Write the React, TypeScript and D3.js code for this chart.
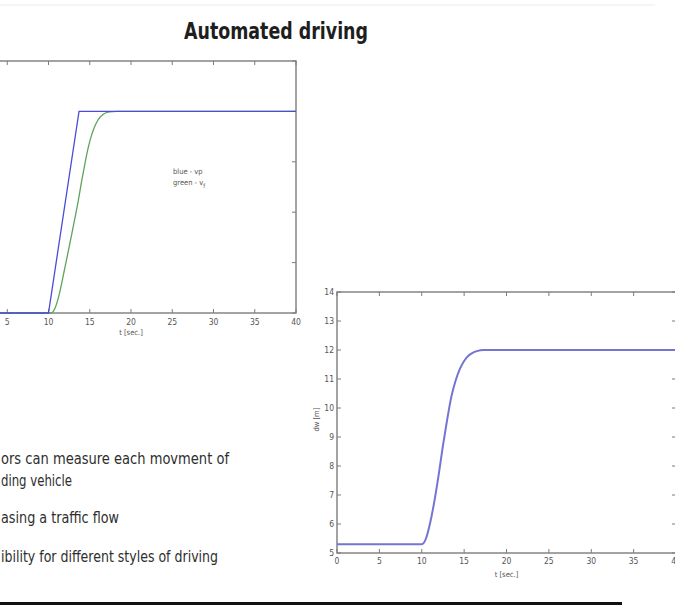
import React from 'react';
import * as d3 from 'd3';

// ---- data ----
const title = 'Automated driving';
const timeTicks = [0, 5, 10, 15, 20, 25, 30, 35, 40];
const timeLabels = ['0', '5', '10', '15', '20', '25', '30', '35', '40'];

// left chart: speeds (arbitrary units, axis labels not visible)
const vpT = [0, 10, 13.7, 40];
const vpV = [0, 0, 4, 4];
const vfT = [0, 10.3, 10.8, 11.3, 11.8, 12.3, 12.8, 13.2, 13.6, 14.0, 14.4, 14.8, 15.2, 15.6, 16.0, 16.6, 17.4, 18.3, 40];
const vfV = [0, 0, 0.1, 0.37, 0.75, 1.15, 1.55, 1.88, 2.22, 2.6, 2.95, 3.27, 3.52, 3.7, 3.83, 3.94, 3.99, 4.0, 4.0];
const speedTicks = [0, 1, 2, 3, 4, 5];

// right chart: distance dw [m]
const dT = [0, 10, 10.5, 11, 11.5, 12, 12.5, 13, 13.5, 14, 14.5, 15, 15.5, 16, 16.5, 17.3, 18, 40];
const dV = [5.3, 5.3, 5.5, 6.05, 6.8, 7.7, 8.7, 9.6, 10.4, 10.95, 11.35, 11.62, 11.8, 11.9, 11.96, 12.0, 12.0, 12.0];
const distTicks = [5, 6, 7, 8, 9, 10, 11, 12, 13, 14];

const bullets = [
  'ors can measure each movment of',
  'ding vehicle',
  'asing a traffic flow',
  'ibility for different styles of driving',
];
const bulletWidths = [228, 71, 118, 217];
const bulletY = [464, 486, 523, 562];

const narrow = "'Liberation Sans Narrow', 'Arial Narrow', 'DejaVu Sans Condensed', sans-serif";
const boxColor = '#7c7c7c';
const labelColor = '#555';

export default function App() {
  // left chart scales
  const lx = d3.scaleLinear().domain([0, 40]).range([-34, 296]);
  const ly = d3.scaleLinear().domain([0, 5]).range([313, 61]);
  // right chart scales
  const rx = d3.scaleLinear().domain([0, 40]).range([337, 676]);
  const ry = d3.scaleLinear().domain([5, 14]).range([553, 292]);

  const vpLine = d3.line<number>().x((_, i) => lx(vpT[i])).y((d) => ly(d))(vpV) || '';
  const vfLine = d3
    .line<number>()
    .x((_, i) => lx(vfT[i]))
    .y((d) => ly(d))
    .curve(d3.curveMonotoneX)(vfV) || '';
  const dLine = d3
    .line<number>()
    .x((_, i) => rx(dT[i]))
    .y((d) => ry(d))
    .curve(d3.curveMonotoneX)(dV) || '';

  const tk = 4;
  const [lx0, lx1] = lx.range();
  const [ly0, ly1] = ly.range();
  const [rx0, rx1] = rx.range();
  const [ry0, ry1] = ry.range();

  return (
    <svg
      width={675}
      height={608}
      style={{ position: 'absolute', left: 0, top: 0, background: '#fff' }}
    >
      <rect x={0} y={0} width={675} height={608} fill="#fff" />
      <line x1={0} x2={655} y1={5} y2={5} stroke="#ececec" strokeWidth={1} />

      <text
        x={276}
        y={39}
        textAnchor="middle"
        fontFamily={narrow}
        fontWeight="bold"
        fontSize={23}
        fill="#1e1e1e"
        textLength={184}
        lengthAdjust="spacingAndGlyphs"
      >
        {title}
      </text>

      {/* ---------- left chart ---------- */}
      <g>
        <rect x={lx0} y={ly1} width={lx1 - lx0} height={ly0 - ly1} fill="none" stroke={boxColor} strokeWidth={1.4} />
        {timeTicks.map((t, i) => (
          <g key={'lt' + i}>
            <line x1={lx(t)} x2={lx(t)} y1={ly0} y2={ly0 - tk} stroke={boxColor} />
            <line x1={lx(t)} x2={lx(t)} y1={ly1} y2={ly1 + tk} stroke={boxColor} />
            {lx(t) > 0 && (
              <text x={lx(t)} y={ly0 + 12} textAnchor="middle" fontFamily={narrow} fontSize={8.5} fill={labelColor}>
                {timeLabels[i]}
              </text>
            )}
          </g>
        ))}
        {speedTicks.map((v, i) => (
          <line key={'ls' + i} x1={lx1} x2={lx1 - tk} y1={ly(v)} y2={ly(v)} stroke={boxColor} />
        ))}
        <text x={lx(20)} y={ly0 + 22} textAnchor="middle" fontFamily={narrow} fontSize={7.5} fill={labelColor}>
          t [sec.]
        </text>
        <path d={vfLine} fill="none" stroke="#5da35d" strokeWidth={1.3} />
        <path d={vpLine} fill="none" stroke="#4c4cd6" strokeWidth={1.3} />
        <text x={173} y={174} fontFamily={narrow} fontSize={7.5} fill="#555">
          blue - vp
        </text>
        <text x={173} y={185} fontFamily={narrow} fontSize={7.5} fill="#555">
          green - v
          <tspan fontSize={6} dy={2.5}>f</tspan>
        </text>
      </g>

      {/* ---------- right chart ---------- */}
      <g>
        <rect x={rx0} y={ry1} width={rx1 - rx0} height={ry0 - ry1} fill="none" stroke={boxColor} strokeWidth={1.4} />
        {timeTicks.map((t, i) => (
          <g key={'rt' + i}>
            <line x1={rx(t)} x2={rx(t)} y1={ry0} y2={ry0 - tk} stroke={boxColor} />
            <line x1={rx(t)} x2={rx(t)} y1={ry1} y2={ry1 + tk} stroke={boxColor} />
            <text x={rx(t)} y={ry0 + 11} textAnchor="middle" fontFamily={narrow} fontSize={8.5} fill={labelColor}>
              {timeLabels[i]}
            </text>
          </g>
        ))}
        {distTicks.map((v, i) => (
          <g key={'rd' + i}>
            <line x1={rx0} x2={rx0 + tk} y1={ry(v)} y2={ry(v)} stroke={boxColor} />
            <line x1={rx1} x2={rx1 - tk} y1={ry(v)} y2={ry(v)} stroke={boxColor} />
            <text x={rx0 - 3} y={ry(v) + 3} textAnchor="end" fontFamily={narrow} fontSize={8.5} fill={labelColor}>
              {String(v)}
            </text>
          </g>
        ))}
        <text x={rx(20)} y={ry0 + 24} textAnchor="middle" fontFamily={narrow} fontSize={7.5} fill={labelColor}>
          t [sec.]
        </text>
        <text
          transform={`translate(319, ${ry(9.6)}) rotate(-90)`}
          textAnchor="middle"
          fontFamily={narrow}
          fontSize={7.5}
          fill={labelColor}
        >
          dw [m]
        </text>
        <path d={dLine} fill="none" stroke="#7474d4" strokeWidth={2} />
      </g>

      {/* ---------- text ---------- */}
      {bullets.map((b, i) => (
        <text
          key={'b' + i}
          x={1}
          y={bulletY[i]}
          fontFamily={narrow}
          fontSize={15}
          fill="#2e2e2e"
          textLength={bulletWidths[i]}
          lengthAdjust="spacingAndGlyphs"
        >
          {b}
        </text>
      ))}

      <line x1={0} x2={622} y1={603.5} y2={603.5} stroke="#111" strokeWidth={3} />
    </svg>
  );
}
